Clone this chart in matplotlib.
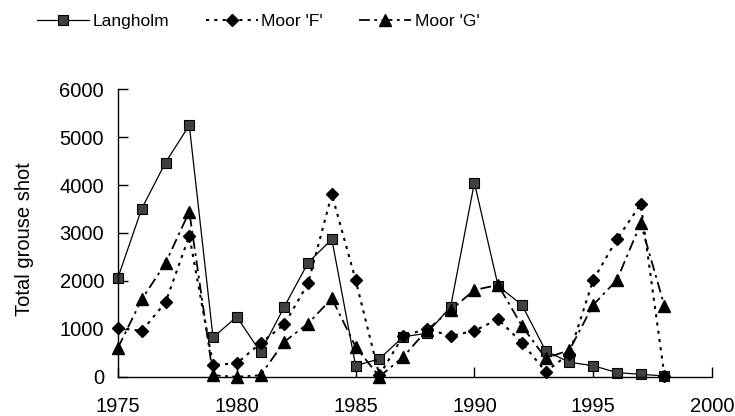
import matplotlib
matplotlib.use("Agg")
import matplotlib.pyplot as plt

years = list(range(1975, 1999))
langholm = [2070, 3510, 4470, 5250, 820, 1250, 510, 1460, 2380, 2870, 230, 370,
            835, 905, 1460, 4050, 1890, 1500, 540, 300, 230, 85, 50, 15]
moor_f = [1020, 955, 1550, 2940, 245, 280, 700, 1090, 1950, 3810, 2020, 30,
          850, 1000, 850, 960, 1200, 710, 105, 480, 2020, 2870, 3600, 15]
moor_g = [605, 1615, 2370, 3445, 30, 0, 30, 730, 1110, 1635, 625, 0,
          410, 975, 1390, 1810, 1915, 1060, 385, 555, 1500, 2020, 3200, 1475]
series_names = ["Langholm", "Moor 'F'", "Moor 'G'"]
x_ticks = [1975, 1980, 1985, 1990, 1995, 2000]
y_ticks = [0, 1000, 2000, 3000, 4000, 5000, 6000]

plt.rcParams['font.family'] = ['Liberation Sans', 'DejaVu Sans']

W, H = 735, 416
fig = plt.figure(figsize=(W / 100, H / 100), dpi=100)
ax = fig.add_axes([118 / W, 1 - 376.7 / H, (712 - 118) / W, (376.7 - 89.3) / H])

ax.plot(years, langholm, linestyle='-', color='black', linewidth=0.9,
        marker='s', markersize=7, markerfacecolor='#404040',
        markeredgecolor='black', markeredgewidth=0.8, clip_on=False,
        label=series_names[0])
ax.plot(years, moor_f, linestyle=(0, (1.5, 2.5)), color='black', linewidth=1.5,
        marker='D', markersize=6, markerfacecolor='black',
        markeredgecolor='black', clip_on=False, label=series_names[1])
ax.plot(years, moor_g, linestyle=(0, (6, 2.5, 1.5, 2.5)), color='black', linewidth=1.3,
        marker='^', markersize=8, markerfacecolor='black',
        markeredgecolor='black', clip_on=False, label=series_names[2])

ax.set_xlim(1975, 2000)
ax.set_ylim(0, 6000)
ax.set_xticks(x_ticks)
ax.set_yticks(y_ticks)
for s in ['top', 'right']:
    ax.spines[s].set_visible(False)
for s in ['left', 'bottom']:
    ax.spines[s].set_linewidth(1.0)
ax.tick_params(axis='both', direction='in', length=7, width=1.0,
               labelsize=14.5)
ax.tick_params(axis='x', pad=14.5)
ax.tick_params(axis='y', pad=10)
ax.set_ylabel("Total grouse shot", fontsize=14.5)
ax.yaxis.set_label_coords(-0.142, 0.48)

fig.legend(loc='center left', bbox_to_anchor=(37 / W, 1 - 21 / H),
           ncol=3, frameon=False, fontsize=12.5, borderpad=0, borderaxespad=0,
           handlelength=3.0, handletextpad=0.2, columnspacing=2.1)

fig.savefig("out.png", dpi=100)
